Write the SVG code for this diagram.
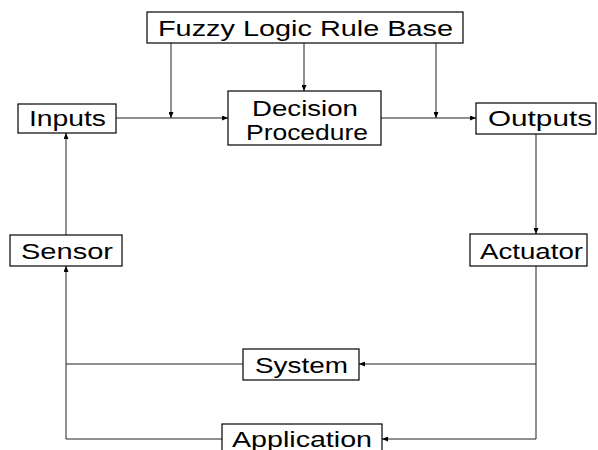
<svg xmlns="http://www.w3.org/2000/svg" width="598" height="450" viewBox="0 0 598 450">
<style>
.box{fill:#fff;stroke:#000;stroke-width:1.2}
.t{font-family:"Liberation Sans",Arial,sans-serif;font-size:22px;fill:#000}
.c{fill:none;stroke:#222;stroke-width:1}
</style>
<defs>
<marker id="a" markerWidth="6" markerHeight="5" refX="6" refY="2.5" orient="auto" markerUnits="userSpaceOnUse">
<path d="M0,0 L6,2.5 L0,5 Z" fill="#000"/>
</marker>
</defs>
<rect width="598" height="450" fill="#fff"/>
<g id="connectors">
<path class="c" d="M116,118 H228" marker-end="url(#a)"/>
<path class="c" d="M171,43 V118" marker-end="url(#a)"/>
<path class="c" d="M304,43 V91" marker-end="url(#a)"/>
<path class="c" d="M436,43 V118" marker-end="url(#a)"/>
<path class="c" d="M381,118 H476" marker-end="url(#a)"/>
<path class="c" d="M536,134 V234" marker-end="url(#a)"/>
<path class="c" d="M536,266 V439 H382" marker-end="url(#a)"/>
<path class="c" d="M536,364 H359" marker-end="url(#a)"/>
<path class="c" d="M243,364 H66"/>
<path class="c" d="M222,439 H66 V266" marker-end="url(#a)"/>
<path class="c" d="M66,235 V133" marker-end="url(#a)"/>
</g>
<g id="rulebase">
<rect class="box" x="147" y="12" width="316" height="31"/>
<text class="t" x="158" y="36" textLength="295" lengthAdjust="spacingAndGlyphs">Fuzzy Logic Rule Base</text>
</g>
<g id="inputs">
<rect class="box" x="18" y="104" width="98" height="29"/>
<text class="t" x="29" y="126" textLength="77" lengthAdjust="spacingAndGlyphs">Inputs</text>
</g>
<g id="decision">
<rect class="box" x="228" y="91" width="153" height="54"/>
<text class="t" x="252" y="116" textLength="106" lengthAdjust="spacingAndGlyphs">Decision</text>
<text class="t" x="246" y="140" textLength="122" lengthAdjust="spacingAndGlyphs">Procedure</text>
</g>
<g id="outputs">
<rect class="box" x="476" y="103" width="120" height="31"/>
<text class="t" x="488" y="126" textLength="104" lengthAdjust="spacingAndGlyphs">Outputs</text>
</g>
<g id="sensor">
<rect class="box" x="10" y="235" width="112" height="31"/>
<text class="t" x="21" y="259" textLength="92" lengthAdjust="spacingAndGlyphs">Sensor</text>
</g>
<g id="actuator">
<rect class="box" x="470" y="234" width="117" height="32"/>
<text class="t" x="480" y="259" textLength="103" lengthAdjust="spacingAndGlyphs">Actuator</text>
</g>
<g id="system">
<rect class="box" x="243" y="349" width="116" height="31"/>
<text class="t" x="255" y="373" textLength="93" lengthAdjust="spacingAndGlyphs">System</text>
</g>
<g id="application">
<rect class="box" x="222" y="424" width="160" height="34"/>
<text class="t" x="232" y="447" textLength="140" lengthAdjust="spacingAndGlyphs">Application</text>
</g>
</svg>
